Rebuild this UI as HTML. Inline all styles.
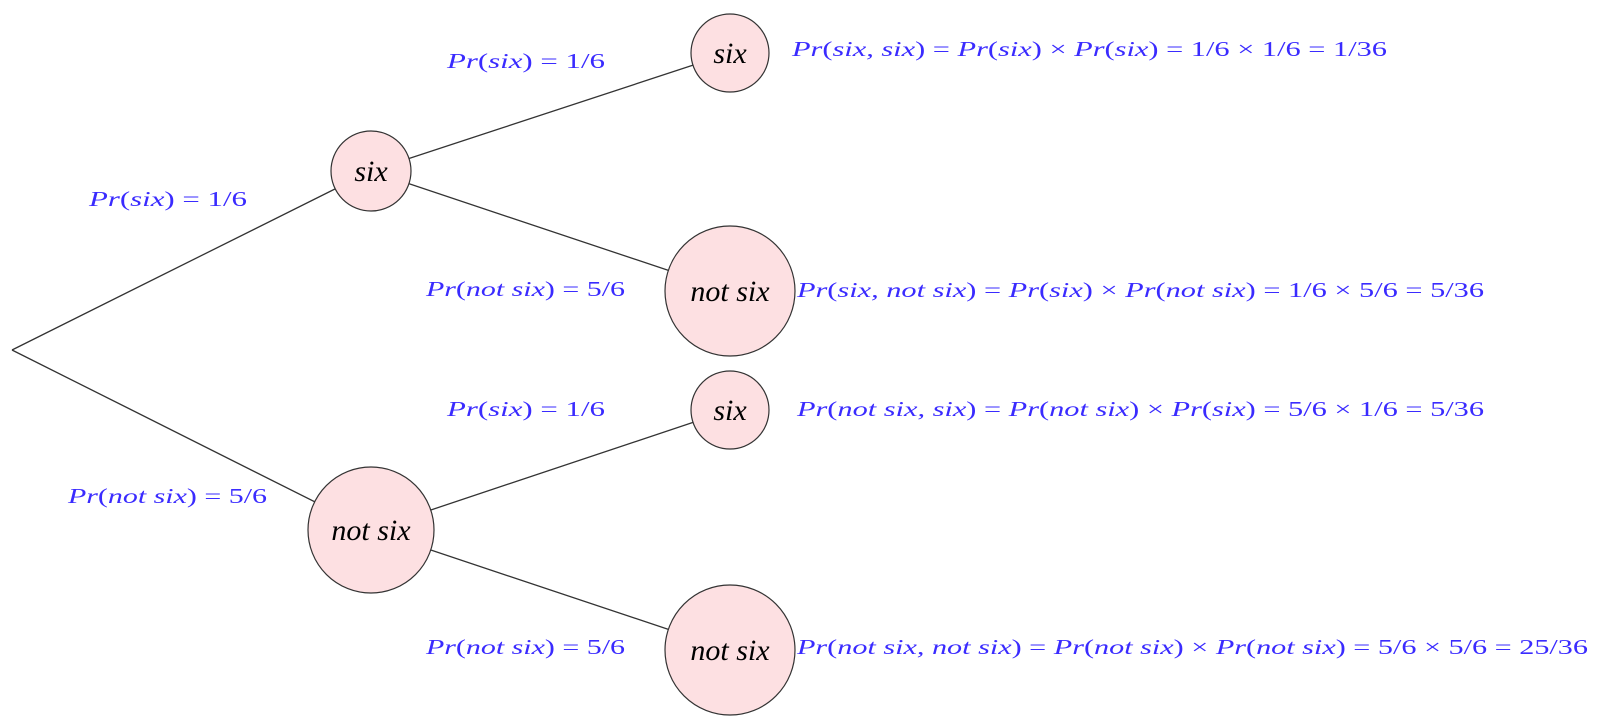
<!DOCTYPE html>
<html><head><meta charset="utf-8"><style>
html,body{margin:0;padding:0;background:#fff;}
svg{display:block;}
.l{font-family:"Liberation Serif",serif;font-size:21px;fill:#3a2bff;}
.n{font-family:"Liberation Serif",serif;font-style:italic;fill:#000;}
</style></head><body>
<svg width="1600" height="725" xmlns="http://www.w3.org/2000/svg">
<g stroke="#333" stroke-width="1.3" fill="none">
<line x1="12" y1="350" x2="371" y2="171"/>
<line x1="12" y1="350" x2="371" y2="530"/>
<line x1="371" y1="171" x2="730" y2="53"/>
<line x1="371" y1="171" x2="730" y2="291"/>
<line x1="371" y1="530" x2="730" y2="410"/>
<line x1="371" y1="530" x2="730" y2="650"/>
</g>
<g fill="#fde0e2" stroke="#333" stroke-width="1.2">
<circle cx="371" cy="171" r="40"/>
<circle cx="371" cy="530" r="63"/>
<circle cx="730" cy="53" r="39"/>
<circle cx="730" cy="291" r="65"/>
<circle cx="730" cy="410" r="39"/>
<circle cx="730" cy="650" r="65"/>
</g>
<g class="n" font-size="30" text-anchor="middle">
<text x="371" y="181">six</text>
<text x="371" y="540">not six</text>
<text x="730" y="63">six</text>
<text x="730" y="301">not six</text>
<text x="730" y="420">six</text>
<text x="730" y="660">not six</text>
</g>
<g class="l">
<text x="89" y="206" textLength="158" lengthAdjust="spacingAndGlyphs"><tspan font-style="italic">Pr</tspan>(<tspan font-style="italic">six</tspan>) = 1/6</text>
<text x="68" y="503" textLength="199" lengthAdjust="spacingAndGlyphs"><tspan font-style="italic">Pr</tspan>(<tspan font-style="italic">not six</tspan>) = 5/6</text>
<text x="447" y="68" textLength="158" lengthAdjust="spacingAndGlyphs"><tspan font-style="italic">Pr</tspan>(<tspan font-style="italic">six</tspan>) = 1/6</text>
<text x="426" y="296" textLength="199" lengthAdjust="spacingAndGlyphs"><tspan font-style="italic">Pr</tspan>(<tspan font-style="italic">not six</tspan>) = 5/6</text>
<text x="447" y="416" textLength="158" lengthAdjust="spacingAndGlyphs"><tspan font-style="italic">Pr</tspan>(<tspan font-style="italic">six</tspan>) = 1/6</text>
<text x="426" y="654" textLength="199" lengthAdjust="spacingAndGlyphs"><tspan font-style="italic">Pr</tspan>(<tspan font-style="italic">not six</tspan>) = 5/6</text>
<text x="792" y="56" textLength="595" lengthAdjust="spacingAndGlyphs"><tspan font-style="italic">Pr</tspan>(<tspan font-style="italic">six, six</tspan>) = <tspan font-style="italic">Pr</tspan>(<tspan font-style="italic">six</tspan>) × <tspan font-style="italic">Pr</tspan>(<tspan font-style="italic">six</tspan>) = 1/6 × 1/6 = 1/36</text>
<text x="797" y="297" textLength="687" lengthAdjust="spacingAndGlyphs"><tspan font-style="italic">Pr</tspan>(<tspan font-style="italic">six, not six</tspan>) = <tspan font-style="italic">Pr</tspan>(<tspan font-style="italic">six</tspan>) × <tspan font-style="italic">Pr</tspan>(<tspan font-style="italic">not six</tspan>) = 1/6 × 5/6 = 5/36</text>
<text x="797" y="416" textLength="687" lengthAdjust="spacingAndGlyphs"><tspan font-style="italic">Pr</tspan>(<tspan font-style="italic">not six, six</tspan>) = <tspan font-style="italic">Pr</tspan>(<tspan font-style="italic">not six</tspan>) × <tspan font-style="italic">Pr</tspan>(<tspan font-style="italic">six</tspan>) = 5/6 × 1/6 = 5/36</text>
<text x="797" y="654" textLength="791" lengthAdjust="spacingAndGlyphs"><tspan font-style="italic">Pr</tspan>(<tspan font-style="italic">not six, not six</tspan>) = <tspan font-style="italic">Pr</tspan>(<tspan font-style="italic">not six</tspan>) × <tspan font-style="italic">Pr</tspan>(<tspan font-style="italic">not six</tspan>) = 5/6 × 5/6 = 25/36</text>
</g>
</svg>
</body></html>
